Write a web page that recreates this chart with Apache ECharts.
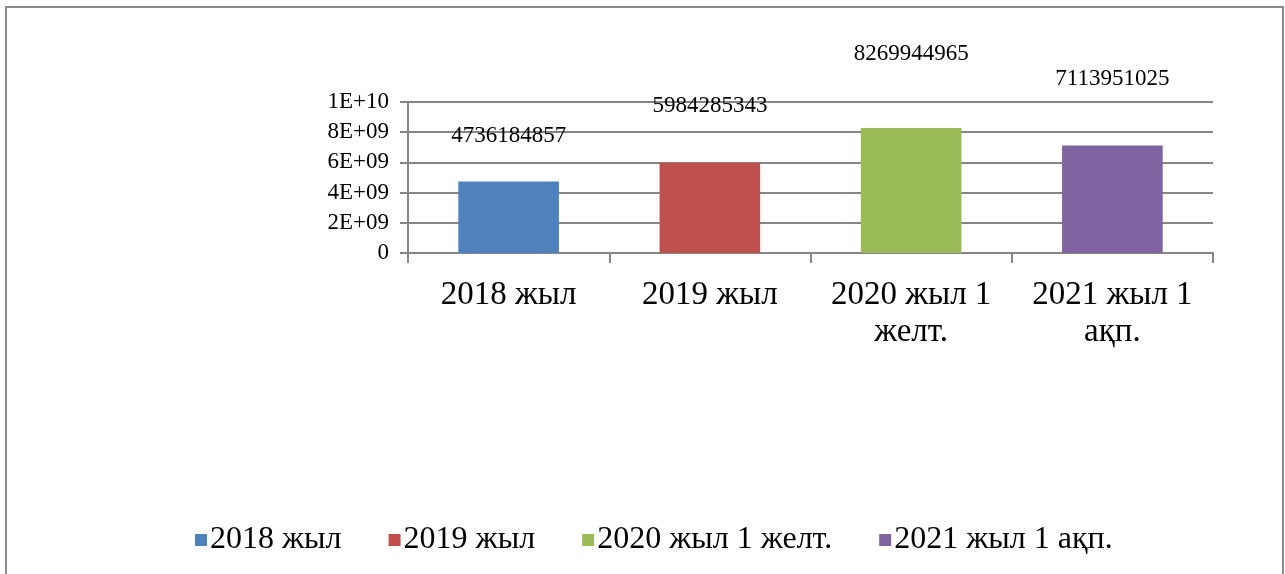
<!DOCTYPE html>
<html>
<head>
<meta charset="utf-8">
<title>chart</title>
<script src="https://cdn.jsdelivr.net/npm/echarts@6/dist/echarts.min.js"></script>
<style>
  html, body { margin: 0; padding: 0; background: #fff; overflow: hidden; }
  #main { width: 1285px; height: 574px; }
  .frame {
    position: absolute;
    left: 5px;
    top: 6px;
    width: 1275px;
    height: 600px;
    border: 2px solid #8a8a8a;
    border-bottom: none;
    pointer-events: none;
  }
</style>
</head>
<body>
<div id="main"></div>
<div class="frame"></div>
<script>
const categories = ["2018 жыл", "2019 жыл", "2020 жыл 1 желт.", "2021 жыл 1 ақп."];
const values = [4736184857, 5984285343, 8269944965, 7113951025];
const yTicks = [0, 2e9, 4e9, 6e9, 8e9, 1e10];

const colors = ["#4F81BD", "#C0504D", "#9BBB59", "#8064A2"];
// Excel put the data labels well above the bars
const labelDistance = [34, 45, 63, 55];
const font = "'Liberation Serif', 'Times New Roman', 'DejaVu Serif', serif";

function expLabel(v) {
  if (v === 0) return "0";
  const [m, e] = v.toExponential(0).split("e");
  const n = Math.abs(parseInt(e, 10));
  return m + "E" + (e[0] === "-" ? "-" : "+") + (n < 10 ? "0" + n : n);
}

// "2020 жыл 1 желт." -> "2020 жыл 1\nжелт."
function wrapCategory(v) {
  const w = v.split(" ");
  if (w.length <= 3) return v;
  return w.slice(0, 3).join(" ") + "\n" + w.slice(3).join(" ");
}

const chart = echarts.init(document.getElementById("main"));

const series = categories.map((name, i) => ({
  name: name,
  type: "bar",
  stack: "all",
  barWidth: "50%",
  itemStyle: { color: colors[i] },
  label: {
    show: true,
    position: "top",
    distance: labelDistance[i],
    color: "#000",
    fontFamily: font,
    fontSize: 23,
  },
  data: values.map((v, j) => (j === i ? v : null)),
}));

chart.setOption({
  animation: false,
  textStyle: { fontFamily: font },
  grid: { left: 408, right: 72, top: 102, bottom: 321 },
  legend: {
    bottom: 13,
    left: 190,
    itemWidth: 12,
    itemHeight: 12,
    itemGap: 47,
    icon: "rect",
    textStyle: { color: "#000", fontFamily: font, fontSize: 32, padding: [0, 0, 0, -2] },
    data: categories,
  },
  xAxis: {
    type: "category",
    data: categories,
    axisLine: { lineStyle: { color: "#868686", width: 2 } },
    axisTick: { show: true, length: 10, lineStyle: { color: "#868686", width: 2 } },
    axisLabel: {
      color: "#000",
      fontFamily: font,
      fontSize: 33,
      lineHeight: 37,
      margin: 24,
      interval: 0,
      formatter: wrapCategory,
    },
  },
  yAxis: {
    type: "value",
    min: yTicks[0],
    max: yTicks[yTicks.length - 1],
    interval: yTicks[1] - yTicks[0],
    axisLine: { show: true, lineStyle: { color: "#868686", width: 2 } },
    axisTick: { show: true, length: 8, lineStyle: { color: "#868686", width: 2 } },
    splitLine: { lineStyle: { color: "#868686", width: 2 } },
    axisLabel: {
      color: "#000",
      fontFamily: font,
      fontSize: 23,
      margin: 19,
      formatter: expLabel,
    },
  },
  series: series,
});
</script>
</body>
</html>
